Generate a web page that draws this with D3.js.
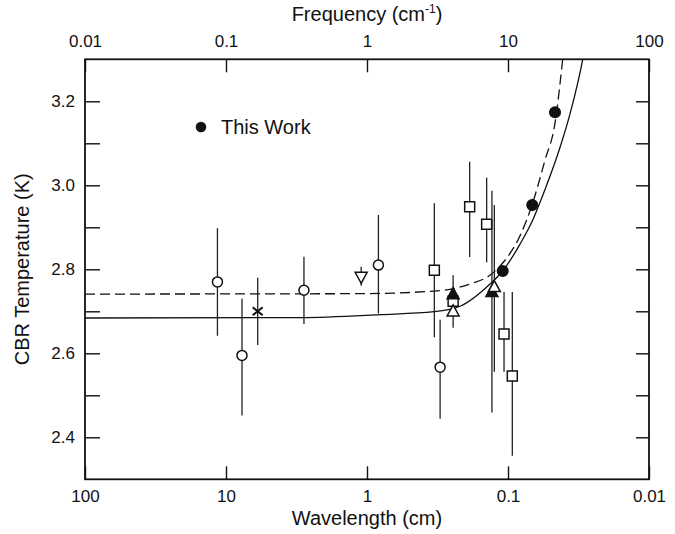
<!DOCTYPE html>
<html>
<head>
<meta charset="utf-8">
<script src="https://cdn.jsdelivr.net/npm/d3@7"></script>
<style>
  html, body { margin: 0; padding: 0; background: #fff; }
  svg { display: block; }
</style>
</head>
<body>
<div id="chart"></div>
<script>
// [wavelength cm, T (K), error up, error down]
const openCircles = [
  [11.5, 2.770, 0.128, 0.128],
  [7.7, 2.595, 0.135, 0.143],
  [2.8, 2.750, 0.080, 0.080],
  [0.83, 2.810, 0.119, 0.115],
  [0.303, 2.567, 0.113, 0.123],
]
const crosses = [
  [5.96, 2.700, 0.080, 0.080],
]
const downTriangles = [
  [1.1, 2.781, 0.025, 0.020],
]
const openSquares = [
  [0.333, 2.798, 0.159, 0.160],
  [0.245, 2.724, 0.000, 0.000],
  [0.187, 2.949, 0.107, 0.120],
  [0.1417, 2.907, 0.111, 0.090],
  [0.1067, 2.646, 0.100, 0.090],
  [0.0932, 2.546, 0.200, 0.190],
]
const filledTriangles = [
  [0.245, 2.742, 0.044, 0.000],
  [0.130, 2.747, 0.240, 0.288],
]
const openTriangles = [
  [0.245, 2.701, 0.000, 0.040],
  [0.125, 2.759, 0.194, 0.203],
]
const thisWork = [
  [0.109, 2.796, 0.012, 0.012],
  [0.0673, 2.953, 0.015, 0.015],
  [0.0464, 3.174, 0.012, 0.012],
]

// fitted curves (frequency cm^-1, T)
const solidFreq = [0.01, 0.335, 1.236, 2.987, 4.566, 7.452, 9.17, 12.17, 14.87, 18.3, 23.37, 27.53, 33.87, 40]
const solidTemp = [2.684, 2.685, 2.692, 2.699, 2.712, 2.765, 2.796, 2.86, 2.915, 2.99, 3.09, 3.17, 3.3, 3.45]
const dashedFreq = [0.01, 0.892, 2.987, 5.377, 7.452, 9.17, 12.17, 14.87, 18.3, 21.54, 24.43, 28]
const dashedTemp = [2.741, 2.742, 2.748, 2.765, 2.786, 2.815, 2.88, 2.955, 3.06, 3.148, 3.3, 3.5]

const wlTicks = [100, 10, 1, 0.1, 0.01]
const freqTicks = [0.01, 0.1, 1, 10, 100]
const tempTicks = [2.4, 2.5, 2.6, 2.7, 2.8, 2.9, 3.0, 3.1, 3.2]
const tempLabels = [2.4, 2.6, 2.8, 3.0, 3.2]

const W = 675, H = 534
const M = { left: 85, right: 649, top: 59.3, bottom: 479.3 }
const FONT = "'Liberation Sans', Arial, sans-serif"
const INK = '#111'

const svg = d3.select('#chart').append('svg')
  .attr('width', W).attr('height', H)
  .attr('font-family', FONT)

const x = d3.scaleLog().domain([100, 0.01]).range([M.left, M.right])
const xf = d3.scaleLog().domain([0.01, 100]).range([M.left, M.right])
const y = d3.scaleLinear().domain([2.3, 3.3]).range([M.bottom, M.top])

svg.append('defs').append('clipPath').attr('id', 'plot')
  .append('rect')
  .attr('x', M.left).attr('y', M.top)
  .attr('width', M.right - M.left).attr('height', M.bottom - M.top)

const fmt = d => String(d)

// Axes
const axBottom = svg.append('g')
  .attr('transform', `translate(0,${M.bottom})`)
  .call(d3.axisBottom(x).tickValues(wlTicks).tickSizeInner(-13).tickSizeOuter(0).tickPadding(11).tickFormat(fmt))
const axTop = svg.append('g')
  .attr('transform', `translate(0,${M.top})`)
  .call(d3.axisTop(xf).tickValues(freqTicks).tickSizeInner(-13).tickSizeOuter(0).tickPadding(12).tickFormat(fmt))
const axLeft = svg.append('g')
  .attr('transform', `translate(${M.left},0)`)
  .call(d3.axisLeft(y).tickValues(tempTicks).tickSizeInner(-15).tickSizeOuter(0).tickPadding(10)
    .tickFormat(d => tempLabels.some(v => Math.abs(v - d) < 1e-6) ? d3.format('.1f')(d) : ''))
const axRight = svg.append('g')
  .attr('transform', `translate(${M.right},0)`)
  .call(d3.axisRight(y).tickValues(tempTicks).tickSizeInner(-13).tickSizeOuter(0).tickFormat(''))

for (const g of [axBottom, axTop, axLeft, axRight]) {
  g.select('.domain').remove()
  g.selectAll('line').attr('stroke', INK).attr('stroke-width', 1.4)
  g.selectAll('text').attr('fill', INK).attr('font-size', 17).attr('font-family', FONT)
}

svg.append('rect')
  .attr('x', M.left).attr('y', M.top)
  .attr('width', M.right - M.left).attr('height', M.bottom - M.top)
  .attr('fill', 'none').attr('stroke', INK).attr('stroke-width', 1.8)

// Axis titles
const cx = (M.left + M.right) / 2
const ft = svg.append('text')
  .attr('x', cx).attr('y', 21).attr('text-anchor', 'middle')
  .attr('font-size', 20).attr('fill', INK)
ft.append('tspan').text('Frequency (cm')
ft.append('tspan').attr('font-size', 12).attr('dy', -8).text('-1')
ft.append('tspan').attr('dy', 8).text(')')

svg.append('text')
  .attr('x', cx).attr('y', 525).attr('text-anchor', 'middle')
  .attr('font-size', 20).attr('fill', INK)
  .text('Wavelength (cm)')

svg.append('text')
  .attr('transform', `translate(29,${(M.top + M.bottom) / 2}) rotate(-90)`)
  .attr('text-anchor', 'middle')
  .attr('font-size', 20).attr('fill', INK)
  .text('CBR Temperature (K)')

// Curves
const plot = svg.append('g').attr('clip-path', 'url(#plot)')
const line = d3.line().x(d => xf(d[0])).y(d => y(d[1])).curve(d3.curveMonotoneX)

plot.append('path')
  .datum(solidFreq.map((f, i) => [f, solidTemp[i]]))
  .attr('d', line).attr('fill', 'none').attr('stroke', INK).attr('stroke-width', 1.3)

plot.append('path')
  .datum(dashedFreq.map((f, i) => [f, dashedTemp[i]]))
  .attr('d', line).attr('fill', 'none').attr('stroke', INK).attr('stroke-width', 1.3)
  .attr('stroke-dasharray', '10,5')

// Error bars
const allSeries = [openCircles, crosses, downTriangles, openSquares, filledTriangles, openTriangles, thisWork]
for (const s of allSeries) {
  plot.selectAll(null).data(s.filter(d => d[2] > 0 || d[3] > 0)).enter()
    .append('line')
    .attr('x1', d => x(d[0])).attr('x2', d => x(d[0]))
    .attr('y1', d => y(d[1] + d[2])).attr('y2', d => y(d[1] - d[3]))
    .attr('stroke', '#222').attr('stroke-width', 1.3)
}

// Markers
function markerPath(type) {
  switch (type) {
    case 'circle': return d3.symbol(d3.symbolCircle, Math.PI * 25)()
    case 'dot': return d3.symbol(d3.symbolCircle, Math.PI * 28)()
    case 'square': return 'M-5,-5H5V5H-5Z'
    case 'tri': return 'M0,-6L6,5H-6Z'
    case 'tridown': return 'M0,6L6,-5H-6Z'
    case 'x': return 'M-5,-4L5,4M-5,4L5,-4'
  }
}

function drawMarkers(data, type, fill) {
  plot.selectAll(null).data(data).enter()
    .append('path')
    .attr('transform', d => `translate(${x(d[0])},${y(d[1])})`)
    .attr('d', markerPath(type))
    .attr('fill', fill)
    .attr('stroke', INK).attr('stroke-width', type === 'x' ? 2 : 1.5)
}

drawMarkers(openCircles, 'circle', '#fff')
drawMarkers(openSquares, 'square', '#fff')
drawMarkers(filledTriangles, 'tri', INK)
drawMarkers(openTriangles, 'tri', '#fff')
drawMarkers(downTriangles, 'tridown', '#fff')
drawMarkers(crosses, 'x', 'none')
drawMarkers(thisWork, 'dot', INK)

// Legend
svg.append('path')
  .attr('transform', 'translate(201,127)')
  .attr('d', markerPath('dot')).attr('fill', INK)
svg.append('text')
  .attr('x', 221).attr('y', 134)
  .attr('font-size', 20).attr('fill', INK)
  .text('This Work')
</script>
</body>
</html>
